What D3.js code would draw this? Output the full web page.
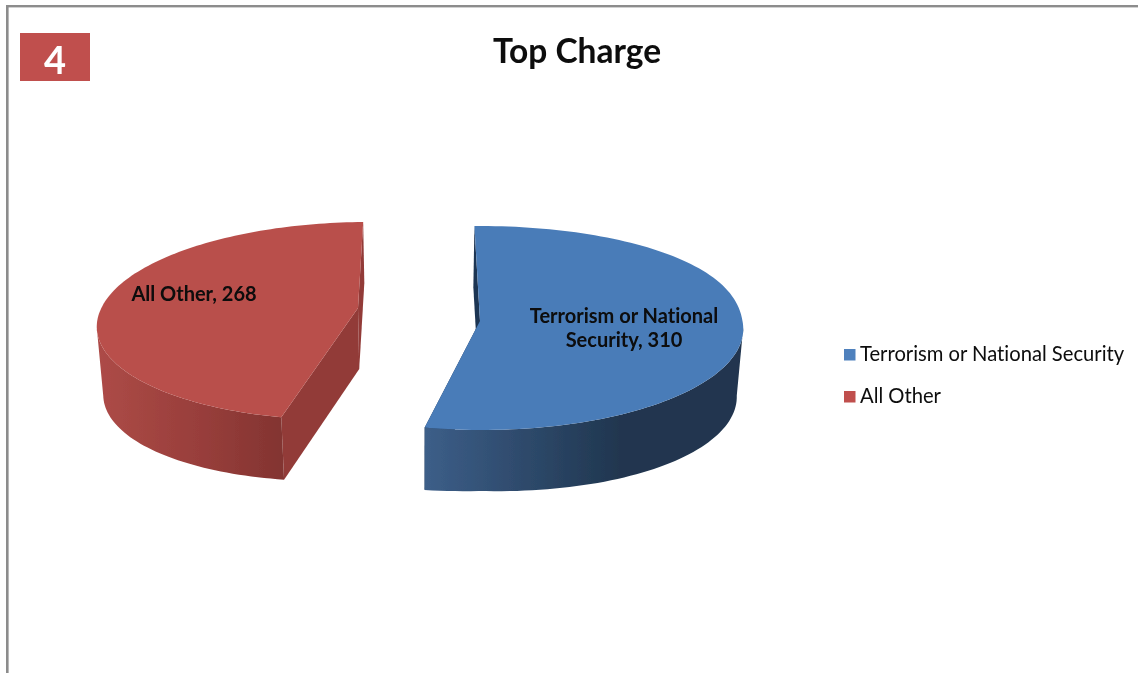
<!DOCTYPE html>
<html>
<head>
<meta charset="utf-8">
<script src="https://cdn.jsdelivr.net/npm/d3@7/dist/d3.min.js"></script>
<style>
html, body { margin: 0; padding: 0; background: #fff; overflow: hidden; }
text { font-family: Lato, "Open Sans", sans-serif; fill: #0a0a0a; font-variant-ligatures: none; }
</style>
</head>
<body>
<div id="chart"></div>
<script>
// values
var categories = ["Terrorism or National Security", "All Other"];
var values = [310, 268];
var labelLines = [["Terrorism or National", "Security, 310"], ["All Other, 268"]];
var chartTitle = "Top Charge";
var badge = "4";

var w = 1138;
var h = 673;
var rad = Math.PI / 180;

var topColor = d3.scaleOrdinal().domain(categories).range(["#4a7cb8", "#b94f4b"]);
var keyColor = d3.scaleOrdinal().domain(categories).range(["#4f81bd", "#c0504d"]);
var innerColor = d3.scaleOrdinal().domain(categories).range(["#1f3552", "#923b38"]);

// the two pieces are not seen from the same angle, so each gets its own view
var views = {
    "Terrorism or National Security": {ax: 480, ay: 321, rx: 262.5, ry: 101.5, k: 0.0686, front: 0.02, back: 0, bulge: 0.9,
        wall: [[426, "#3c5e88"], [620, "#20364f"], [744, "#20364f"]], label: [624, 323]},
    "All Other": {ax: 358, ay: 308, rx: 256.6, ry: 97.3, k: 0.131, front: -0.152, back: -0.12, bulge: 1,
        wall: [[97, "#ad4b47"], [200, "#983e3b"], [282, "#833431"]], label: [194, 301]}
};
var vanishX = 420;

var svg = d3.select("#chart").append("svg")
    .attr("width", w)
    .attr("height", h)
    .style("display", "block");

var defs = svg.append("defs");
defs.append("filter").attr("id", "soft")
    .append("feGaussianBlur").attr("stdDeviation", 0.45);

var root = svg.append("g").attr("filter", "url(#soft)");

// frame, open on the right and at the bottom
root.append("rect").attr("x", 6).attr("y", 5).attr("width", w - 6).attr("height", 2.4).attr("fill", "#8c8c8c");
root.append("rect").attr("x", 6).attr("y", 5).attr("width", 2.6).attr("height", h - 5).attr("fill", "#8c8c8c");

// number badge
root.append("rect").attr("x", 20).attr("y", 33).attr("width", 70).attr("height", 48).attr("fill", "#c0504d");
root.append("text").attr("x", 55).attr("y", 74)
    .attr("text-anchor", "middle")
    .attr("font-size", 38)
    .attr("font-weight", 700)
    .style("fill", "#fff")
    .text(badge);

root.append("text").attr("x", 577).attr("y", 63)
    .attr("text-anchor", "middle")
    .attr("font-size", 33.5)
    .attr("font-weight", 700)
    .text(chartTitle);

var project = function(v, theta, r, lower) {
    var wx = Math.sin(theta) * r;
    var wy = -Math.cos(theta) * r;
    if (wy < 0) wy = -Math.pow(-wy, v.bulge);
    var s = 1 / (1 - v.k * wy);
    var dy = v.ry * wy * s;
    var x = v.ax + v.rx * wx * s + (dy > 0 ? v.front : v.back) * dy;
    var y = v.ay + dy;
    if (lower) {
        x = vanishX + (x - vanishX) * 0.98;
        y += 61 + 7 * Math.abs(wx);
    }
    return [x, y];
};

var line = d3.line().curve(d3.curveLinear);

var pie = d3.pie().sort(null)
    .startAngle(-1.3 * rad)
    .endAngle(358.7 * rad);

var slices = pie(values).map(function(d, i) {
    return {name: categories[i], lines: labelLines[i], start: d.startAngle, end: d.endAngle};
});

var rim = function(d, lower) {
    return d3.range(0, 121).map(function(i) {
        var theta = d.start + (d.end - d.start) * i / 120;
        return project(views[d.name], theta, 1, lower);
    });
};

// outer wall: only the front part of the rim, from the side extreme round to the front corner
var wallPath = function(d) {
    var upper = rim(d, false);
    var lower = rim(d, true);
    var side = d3.greatestIndex(upper, function(p) { return Math.abs(p[0] - vanishX); });
    var keep = function(p, i) { return upper[i][1] >= upper[side][1]; };
    return line(upper.filter(keep).concat(lower.filter(keep).reverse())) + "Z";
};

var cut = function(d, theta) {
    var v = views[d.name];
    return line([
        project(v, theta, 1, false),
        project(v, theta, 0, false),
        project(v, theta, 0, true),
        project(v, theta, 1, true)
    ]) + "Z";
};

slices.forEach(function(d, i) {
    var v = views[d.name];
    var x0 = v.wall[0][0];
    var x1 = v.wall[v.wall.length - 1][0];
    var grad = defs.append("linearGradient")
        .attr("id", "wall" + i)
        .attr("gradientUnits", "userSpaceOnUse")
        .attr("x1", x0).attr("x2", x1)
        .attr("y1", 0).attr("y2", 0);
    grad.selectAll("stop")
        .data(v.wall)
        .enter().append("stop")
        .attr("offset", function(s) { return (s[0] - x0) / (x1 - x0); })
        .attr("stop-color", function(s) { return s[1]; });
});

var piece = root.selectAll("g.piece")
    .data(slices)
    .enter().append("g")
    .attr("class", "piece");

// back to front: cut faces, outer wall, top
piece.append("path")
    .attr("d", function(d) { return cut(d, d.end); })
    .attr("fill", function(d) { return innerColor(d.name); });
piece.append("path")
    .attr("d", function(d) { return cut(d, d.start); })
    .attr("fill", function(d) { return innerColor(d.name); });
piece.append("path")
    .attr("d", wallPath)
    .attr("fill", function(d, i) { return "url(#wall" + i + ")"; });
piece.append("path")
    .attr("d", function(d) {
        var v = views[d.name];
        return line(rim(d, false).concat([project(v, 0, 0, false)])) + "Z";
    })
    .attr("fill", function(d) { return topColor(d.name); });

// data labels
piece.each(function(d) {
    var v = views[d.name];
    var t = d3.select(this).append("text")
        .attr("text-anchor", "middle")
        .attr("font-size", 20)
        .attr("font-weight", 700);
    t.selectAll("tspan")
        .data(d.lines)
        .enter().append("tspan")
        .attr("x", v.label[0])
        .attr("y", function(l, j) { return v.label[1] + j * 24; })
        .text(function(l) { return l; });
});

// legend
var legendY = d3.scalePoint().domain(categories).range([361, 403]);
var key = root.selectAll("g.key")
    .data(categories)
    .enter().append("g")
    .attr("class", "key");
key.append("rect")
    .attr("x", 844)
    .attr("y", function(d) { return legendY(d) - 12; })
    .attr("width", 11.5)
    .attr("height", 11.5)
    .attr("fill", function(d) { return keyColor(d); });
key.append("text")
    .attr("x", 860)
    .attr("y", function(d) { return legendY(d); })
    .attr("font-size", 20.2)
    .text(function(d) { return d; });
</script>
</body>
</html>
